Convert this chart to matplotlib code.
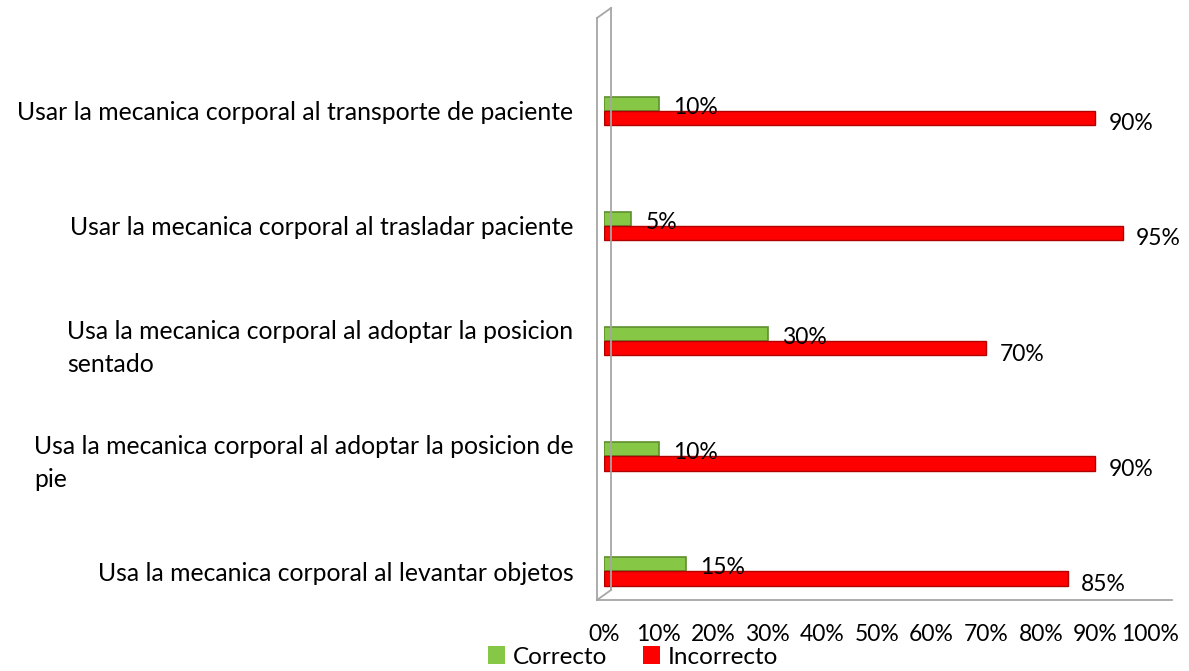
import matplotlib
matplotlib.use("Agg")
import matplotlib.pyplot as plt
import matplotlib.transforms as mtransforms
from matplotlib.lines import Line2D
from matplotlib.patches import Patch

categories = [
    "Usar la mecanica corporal al transporte de paciente",
    "Usar la mecanica corporal al trasladar paciente",
    "Usa la mecanica corporal al adoptar la posicion\nsentado",
    "Usa la mecanica corporal al adoptar la posicion de\npie",
    "Usa la mecanica corporal al levantar objetos",
]
correcto = [10, 5, 30, 10, 15]
incorrecto = [90, 95, 70, 90, 85]
xticks = [0, 10, 20, 30, 40, 50, 60, 70, 80, 90, 100]
xticklabels = [f"{t}%" for t in xticks]

plt.rcParams['font.family'] = ['Lato', 'DejaVu Sans']

W, H = 1189, 671
fig = plt.figure(figsize=(W / 100, H / 100), dpi=100)

def fx(px):
    return px / W

def fy(py):
    return 1 - py / H

ax_left, ax_right, ax_top, ax_bot = 604, 1150, 20, 600
ax = fig.add_axes([fx(ax_left), fy(ax_bot), fx(ax_right - ax_left), (ax_bot - ax_top) / H])

green = "#86C746"
green_edge = "#5E8F2E"
red = "#FF0000"
red_edge = "#B00000"

ypos = list(range(len(categories)))
bh = 0.125
ax.barh([y - bh / 2 for y in ypos], correcto, height=bh, color=green, edgecolor=green_edge, linewidth=1.2)
ax.barh([y + bh / 2 for y in ypos], incorrecto, height=bh, color=red, edgecolor=red_edge, linewidth=1.0)

for y, c, i in zip(ypos, correcto, incorrecto):
    ax.text(c + 2.6, y - 0.03, f"{c}%", va="center", ha="left", fontsize=16.5, color="black")
    ax.text(i + 2.4, y + bh / 2 + 0.05, f"{i}%", va="center", ha="left", fontsize=16.5, color="black")

ax.set_xlim(0, 100)
ax.set_ylim(4.25, -0.79)
ax.set_yticks(ypos)
ax.set_yticklabels(categories, fontsize=17.8)
offset = mtransforms.ScaledTranslation(0, -7 / 100, fig.dpi_scale_trans)
for lbl in ax.get_yticklabels():
    lbl.set_multialignment("left")
    lbl.set_linespacing(1.5)
    lbl.set_transform(lbl.get_transform() + offset)
ax.tick_params(axis="y", length=0, pad=22)
ax.set_xticks(xticks)
ax.set_xticklabels(xticklabels, fontsize=16.5)
ax.tick_params(axis="x", length=0, pad=17)
for s in ax.spines.values():
    s.set_visible(False)
ax.patch.set_alpha(0)

# pseudo-3D frame lines
gray = "#A6A6A6"
frame = [
    ((597, 600), (597, 18)),
    ((597, 18), (611, 8)),
    ((611, 8), (611, 590)),
    ((611, 590), (597, 600)),
    ((597, 600), (1172, 600)),
]
for (x0, y0), (x1, y1) in frame:
    fig.add_artist(Line2D([fx(x0), fx(x1)], [fy(y0), fy(y1)], color=gray, linewidth=1.3))

handles = [Patch(facecolor=green, edgecolor="none", label="Correcto"),
           Patch(facecolor=red, edgecolor="none", label="Incorrecto")]
fig.legend(handles=handles, loc="center", bbox_to_anchor=(fx(633), fy(657)), ncol=2,
           frameon=False, fontsize=17.5, handlelength=0.7, handleheight=0.7,
           handletextpad=0.3, columnspacing=1.5, borderpad=0)

fig.savefig("out.png", dpi=100, facecolor="white")
